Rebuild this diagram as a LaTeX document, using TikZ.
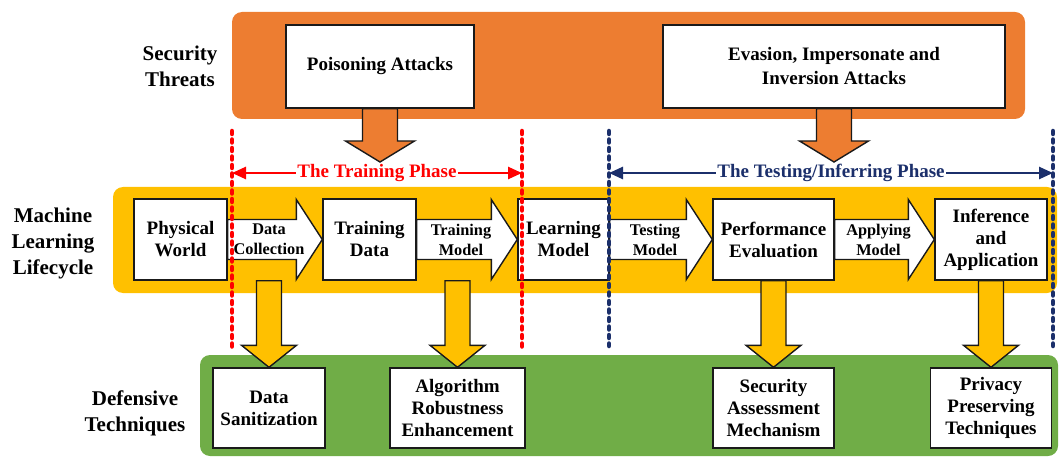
\documentclass[tikz,border=0pt]{standalone}
\usepackage{fontspec}
\setmainfont{Liberation Serif}
\usetikzlibrary{arrows.meta,calc}
\definecolor{orng}{HTML}{ED7D31}
\definecolor{yel}{HTML}{FFC000}
\definecolor{grn}{HTML}{70AD47}
\definecolor{phred}{HTML}{FF0000}
\definecolor{navy}{HTML}{1B2F6B}
\definecolor{outl}{HTML}{1A1A1A}
\newcommand{\fsz}[2]{\fontsize{#1}{#2}\selectfont\bfseries}
% right-pointing block arrow between two nodes, with a label
\newcommand{\rarr}[3]{%
  \draw[blockarr, fill=white] let \p1=(#1.east), \p2=(#2.west) in
    (\x1,\y1+20) -- (\x2-26,\y1+20) -- (\x2-26,\y1+40) -- (\x2,\y1)
    -- (\x2-26,\y1-40) -- (\x2-26,\y1-20) -- (\x1,\y1-20) -- cycle
    ({(\x1+\x2)/2-6},\y1) node[arrlbl] {#3};}
% downward block arrow: start, tip, colour, shaft half width, head half width, head length
\newcommand{\darr}[6]{%
  \draw[blockarr, fill=#3] let \p1=(#1), \p2=(#2) in
    (\x1-#4,\y1) -- (\x1-#4,\y2+#6) -- (\x1-#5,\y2+#6) -- (\x2,\y2)
    -- (\x1+#5,\y2+#6) -- (\x1+#4,\y2+#6) -- (\x1+#4,\y1) -- cycle;}
\begin{document}
\begin{tikzpicture}[x=1pt,y=-1pt,
  box/.style={draw=outl, fill=white, line width=1.4pt, align=center, inner sep=0pt, font=\fsz{19}{22}},
  sidelbl/.style={align=center, font=\fsz{21}{26}},
  arrlbl/.style={align=center, font=\fsz{16.3}{20}, inner sep=0pt},
  blockarr/.style={draw=outl, line width=1.4pt, line join=miter},
  phaseline/.style={line width=4.5pt, dash pattern=on 3pt off 5.5pt, line cap=round},
  phasearr/.style={line width=2.5pt, {Triangle[length=14pt,width=12pt]}-{Triangle[length=14pt,width=12pt]}},
  phaselbl/.style={fill=white, inner sep=1.5pt, font=\fsz{19}{22}},
]
\useasboundingbox (0,0) rectangle (1062,457);
% bands
\fill[orng, rounded corners=10pt] (232,12) rectangle (1025,119);
\fill[yel, rounded corners=10pt] (113,187) rectangle (1057,293);
\fill[grn, rounded corners=10pt] (200,355) rectangle (1058,456);

% side labels
\node[sidelbl] (st) at (180,66) {Security\\Threats};
\node[sidelbl] (mll) at (53,243) {Machine\\Learning\\Lifecycle};
\node[sidelbl] (dt) at (135,413) {Defensive\\Techniques};

% threats
\node[box, minimum width=188pt, minimum height=83pt] (poison) at (380,66.5) {Poisoning Attacks};
\node[box, minimum width=342pt, minimum height=83pt, font=\fsz{19}{24}] (evasion) at (834,66.5) {Evasion, Impersonate and\\Inversion Attacks};
\coordinate (patip) at (380,162);
\coordinate (evtip) at (834,162);
\darr{poison.south}{patip}{orng}{17.5}{34.5}{21}
\darr{evasion.south}{evtip}{orng}{17.5}{34.5}{21}

% lifecycle
\node[box, minimum width=93pt, minimum height=81pt] (pw) at (180.5,239.5) {Physical\\World};
\node[box, minimum width=93pt, minimum height=81pt] (td) at (369.5,239.5) {Training\\Data};
\node[box, minimum width=91pt, minimum height=81pt] (lm) at (563.5,239.5) {Learning\\Model};
\node[box, minimum width=121pt, minimum height=81pt] (pe) at (773.5,239.5) {Performance\\Evaluation};
\node[box, minimum width=112pt, minimum height=81pt] (ia) at (991,239.5) {Inference\\and\\Application};
\rarr{pw}{td}{Data\\Collection}
\rarr{td}{lm}{Training\\Model}
\rarr{lm}{pe}{Testing\\Model}
\rarr{pe}{ia}{Applying\\Model}

% defences
\node[box, minimum width=112pt, minimum height=80pt] (ds) at (269,408) {Data\\Sanitization};
\node[box, minimum width=135pt, minimum height=80pt] (alg) at (457.5,408) {Algorithm\\Robustness\\Enhancement};
\node[box, minimum width=121pt, minimum height=80pt] (sam) at (773.5,408) {Security\\Assessment\\Mechanism};
\node[box, minimum width=121pt, minimum height=80pt] (ppt) at (991,408) {Privacy\\Preserving\\Techniques};
\darr{ds.north |- pw.south}{ds.north}{yel}{12.5}{27.5}{22}
\darr{alg.north |- td.south}{alg.north}{yel}{12.5}{27.5}{22}
\darr{sam.north |- pe.south}{sam.north}{yel}{12.5}{27.5}{22}
\darr{ppt.north |- ia.south}{ppt.north}{yel}{12.5}{27.5}{22}

% phase boundaries
\coordinate (r1t) at (232,131); \coordinate (r1b) at (232,348);
\coordinate (r2t) at (522,131); \coordinate (r2b) at (522,348);
\coordinate (b1t) at (609,131); \coordinate (b1b) at (609,346);
\coordinate (b2t) at (1053,131); \coordinate (b2b) at (1053,346);
\draw[phaseline, phred] (r1t) -- (r1b);
\draw[phaseline, phred] (r2t) -- (r2b);
\draw[phaseline, navy] (b1t) -- (b1b);
\draw[phaseline, navy] (b2t) -- (b2b);
\coordinate (r1a) at (232,173); \coordinate (r2a) at (522,173);
\coordinate (b1a) at (609,173); \coordinate (b2a) at (1053,173);
\draw[phasearr, phred] (r1a) -- (r2a) node[midway, phaselbl, text=phred] {The Training Phase};
\draw[phasearr, navy] (b1a) -- (b2a) node[midway, phaselbl, text=navy] {The Testing/Inferring Phase};
\end{tikzpicture}
\end{document}
